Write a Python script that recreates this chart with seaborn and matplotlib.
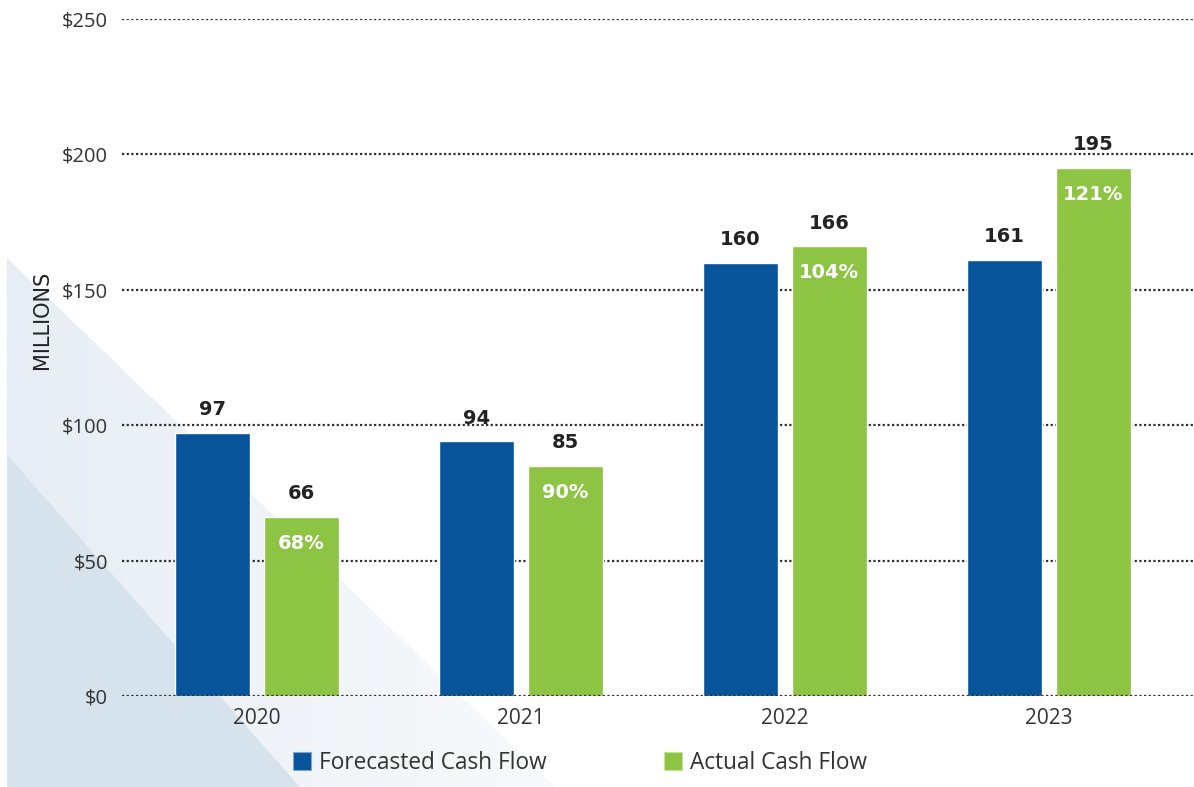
import matplotlib.pyplot as plt
import numpy as np
import pandas as pd
import seaborn as sns
from matplotlib.patches import Patch, Polygon

years = ["2020", "2021", "2022", "2023"]
forecasted = [97, 94, 160, 161]
actual = [66, 85, 166, 195]
pct_of_forecast = ["68%", "90%", "104%", "121%"]
series_names = ["Forecasted Cash Flow", "Actual Cash Flow"]
y_ticks = [0, 50, 100, 150, 200, 250]

blue = "#07549a"
green = "#8dc443"
text_dark = "#222222"

sns.set_theme(style="white")
plt.rcParams["font.family"] = ["Open Sans", "DejaVu Sans"]

df = pd.DataFrame(
    {
        "Year": years * 2,
        "Value": forecasted + actual,
        "Series": [series_names[0]] * 4 + [series_names[1]] * 4,
    }
)

fig = plt.figure(figsize=(11.94, 7.87), dpi=100)
W, H = 1194, 787

# background decoration (pixel coords)
bg = fig.add_axes([0, 0, 1, 1], zorder=-1)
bg.set_xlim(0, W)
bg.set_ylim(H, 0)
bg.axis("off")
grad = np.linspace(0, 1, 256).reshape(1, -1)
light = Polygon([[7, 258], [7, H], [555, H]], closed=True, facecolor="none", edgecolor="none")
bg.add_patch(light)
img = bg.imshow(
    np.vstack([grad, grad]),
    extent=[7, 555, H, 258],
    cmap=sns.blend_palette(["#e6edf4", "#f0f4f8", "#f8f9fb"], as_cmap=True),
    aspect="auto",
)
img.set_clip_path(light)
dark = Polygon([[7, 455], [7, H], [300, H]], closed=True, facecolor="#d6e2ec", edgecolor="none")
bg.add_patch(dark)

ax = fig.add_axes([122 / W, 1 - 696 / H, 1 - 122 / W, (696 - 19) / H])
ax.patch.set_alpha(0)
sns.barplot(
    data=df,
    x="Year",
    y="Value",
    hue="Series",
    palette=[blue, green],
    width=0.675,
    gap=0.16,
    saturation=1,
    legend=False,
    zorder=3,
    ax=ax,
)

ax.set_xlim(-0.51, 3.55)
ax.set_ylim(0, 250)
ax.set_yticks(y_ticks)
ax.set_yticklabels([f"${v}" for v in y_ticks])
for v in y_ticks:
    ax.axhline(v, color="#2e2e2e", linestyle=(0, (1, 1.1)), linewidth=1.6, zorder=2 if v else 5)
sns.despine(ax=ax, left=True, bottom=True)
ax.tick_params(axis="y", length=0, pad=10, labelsize=14.5, labelcolor="#333333")
ax.tick_params(axis="x", length=0, pad=9, labelsize=15, labelcolor="#333333")
ax.set_xlabel("")
ax.set_ylabel("")

bold = dict(fontsize=14, fontweight="bold", family="DejaVu Sans")
forecast_bars, actual_bars = ax.containers
ax.bar_label(forecast_bars, labels=[str(v) for v in forecasted], padding=10,
             color=text_dark, **bold)
ax.bar_label(actual_bars, labels=[str(v) for v in actual], padding=10,
             color=text_dark, **bold)
for bar, pct in zip(actual_bars, pct_of_forecast):
    ax.annotate(
        pct,
        (bar.get_x() + bar.get_width() / 2, bar.get_height()),
        xytext=(0, -19),
        textcoords="offset points",
        ha="center",
        va="center",
        color="white",
        **bold,
    )

fig.text(42 / W, 1 - 320 / H, "MILLIONS", rotation=90, ha="center", va="center",
         fontsize=15, family="DejaVu Sans", color=text_dark)

handles = [Patch(facecolor=blue, edgecolor="#7fa6cc", linewidth=0.8),
           Patch(facecolor=green, edgecolor="#c6e19f", linewidth=0.8)]
fig.legend(
    handles,
    series_names,
    loc="center",
    bbox_to_anchor=(580 / W, 1 - 763 / H),
    ncol=2,
    frameon=False,
    fontsize=16.3,
    labelcolor="#333333",
    handlelength=0.8,
    handleheight=0.8,
    handletextpad=0.35,
    columnspacing=5.2,
)

fig.savefig("out.png", dpi=100)
